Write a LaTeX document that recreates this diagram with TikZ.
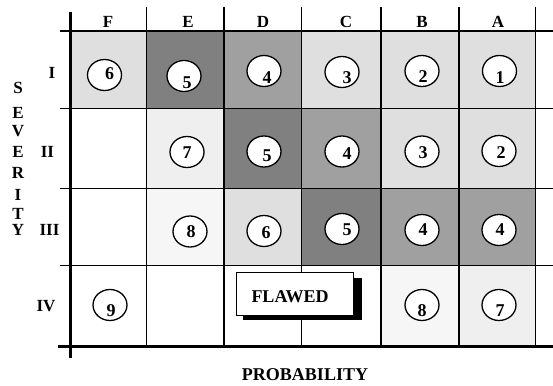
\documentclass[tikz,border=0pt]{standalone}
\usepackage{fontspec}
\setmainfont{Liberation Serif}
\usetikzlibrary{shapes.geometric,calc}
\definecolor{gdark}{HTML}{808080}
\definecolor{gmed}{HTML}{A0A0A0}
\definecolor{glight}{HTML}{DFDFDF}
\definecolor{gvlight}{HTML}{EFEFEF}
\definecolor{gxlight}{HTML}{F6F6F6}
\begin{document}
\begin{tikzpicture}[x=1pt,y=-1pt,
  lbl/.style={font=\fontsize{17}{17}\selectfont\bfseries, inner sep=0pt},
  big/.style={font=\fontsize{18}{18}\selectfont\bfseries, inner sep=0pt},
  circ/.style={ellipse, draw, line width=1.3pt, fill=white, minimum width=34pt, minimum height=31pt, inner sep=0pt},
  num/.style={font=\fontsize{18}{18}\selectfont\bfseries, inner sep=0pt},
  gridline/.style={line width=1.2pt},
  axisline/.style={line width=3pt}]
\useasboundingbox (0,0) rectangle (553,385);

% cell fills (columns F E D C B A)
\def\cA{70}\def\cB{146.7}\def\cC{224}\def\cD{301.3}\def\cE{381}\def\cF{459}\def\cG{535.7}
\def\rA{31}\def\rB{108.3}\def\rC{188.3}\def\rD{265.7}\def\rE{346}
% row I
\fill[glight] (\cA,\rA) rectangle (\cB,\rB);
\fill[gdark]  (\cB,\rA) rectangle (\cC,\rB);
\fill[gmed]   (\cC,\rA) rectangle (\cD,\rB);
\fill[glight] (\cD,\rA) rectangle (\cG,\rB);
% row II
\fill[gvlight] (\cB,\rB) rectangle (\cC,\rC);
\fill[gdark]   (\cC,\rB) rectangle (\cD,\rC);
\fill[gmed]    (\cD,\rB) rectangle (\cE,\rC);
\fill[glight]  (\cE,\rB) rectangle (\cG,\rC);
% row III
\fill[gxlight] (\cB,\rC) rectangle (\cC,\rD);
\fill[glight]  (\cC,\rC) rectangle (\cD,\rD);
\fill[gdark]   (\cD,\rC) rectangle (\cE,\rD);
\fill[gmed]    (\cE,\rC) rectangle (\cG,\rD);
% row IV
\fill[gxlight] (\cE,\rD) rectangle (\cF,\rE);
\fill[gvlight] (\cF,\rD) rectangle (\cG,\rE);

% grid lines
\foreach \x in {\cB,\cC,\cD,\cE,\cF,\cG} \draw[gridline] (\x,7) -- (\x,348);
\foreach \y in {\rA,\rB,\rC,\rD} \draw[gridline] (60,\y) -- (553,\y);
\draw[axisline] (\cA,12) -- (\cA,358);
\draw[axisline] (58,\rE) -- (553,\rE);

% column headers
\foreach \t/\x in {F/108,E/188,D/263,C/346,B/422,A/498}
  \node[lbl] (col\t) at (\x,22) {\t};
% row labels
\node[lbl] (rowI) at (52,73) {I};
\node[lbl] (rowII) at (47.5,152) {II};
\node[lbl] (rowIII) at (49.5,230) {III};
\node[lbl] (rowIV) at (46,306.5) {IV};
% SEVERITY
\foreach \t/\y [count=\i] in {S/88.3,E/112.8,V/131,E/152,R/173,I/195,T/214,Y/230}
  \node[lbl] (sev\i) at (18,\y) {\t};

% circles with numbers
\foreach \n/\x/\y/\dx/\dy/\v in {
  fI/104.5/75/5/-1/6, eI/184/76/3/7/5, dI/264/71/3/7/4, cI/342/72/5/6/3, bI/422/71/1/6/2, aI/499.5/71/0.5/7/1,
  eII/187/152/0/1/7, dII/264/151.5/3/4/5, cII/342/151.5/5/2.5/4, bII/422/151.5/1/1.5/3, aII/499/151/2/2/2,
  eIII/190/231.5/1/0/8, dIII/264/231/2/1.5/6, cIII/342/229/5/1/5, bIII/422/230/1/0/4, aIII/499/230/1/0/4,
  fIV/110/305/1/5.5/9, bIV/422/305/0/5.5/8, aIV/499/305/1/5.5/7}
{
  \node[circ] (c\n) at (\x,\y) {};
  \node[num] (n\n) at ([shift={(\dx,\dy)}]c\n.center) {\v};
}

% FLAWED box
\node[draw=none, minimum width=116pt, minimum height=42pt, inner sep=0pt] (flawed) at (295,294) {};
\fill[black] ([shift={(6,5)}]flawed.north west) rectangle ([shift={(9,5)}]flawed.south east);
\draw[line width=1.3pt, fill=white] (flawed.north west) rectangle (flawed.south east);
\node[big] (flawedtxt) at (290,297) {FLAWED};

% axis title
\node[big] (prob) at (305,374.5) {PROBABILITY};
\end{tikzpicture}
\end{document}
